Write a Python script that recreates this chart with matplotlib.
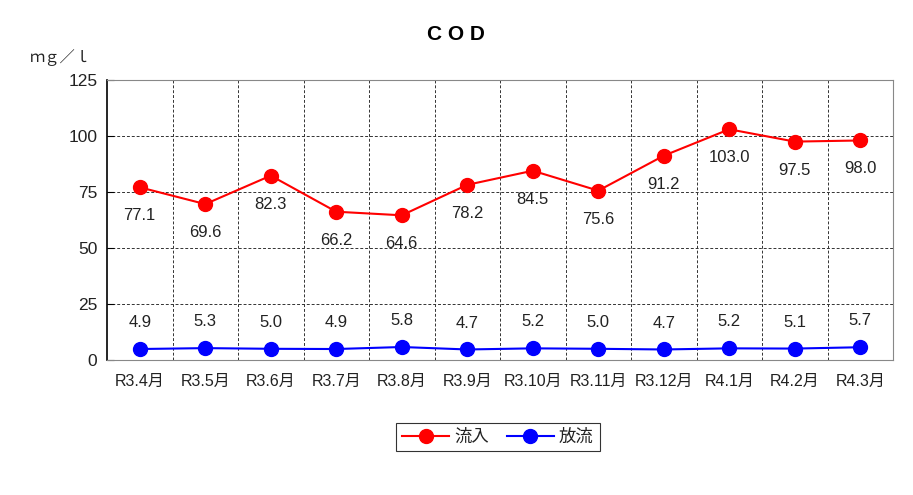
import matplotlib
matplotlib.use("Agg")
import matplotlib.pyplot as plt
from matplotlib.ticker import FixedLocator

plt.rcParams['font.family'] = ['Liberation Sans', 'Noto Sans CJK JP', 'DejaVu Sans']

months = ["R3.4月", "R3.5月", "R3.6月", "R3.7月", "R3.8月", "R3.9月",
          "R3.10月", "R3.11月", "R3.12月", "R4.1月", "R4.2月", "R4.3月"]
inflow = [77.1, 69.6, 82.3, 66.2, 64.6, 78.2, 84.5, 75.6, 91.2, 103.0, 97.5, 98.0]
outflow = [4.9, 5.3, 5.0, 4.9, 5.8, 4.7, 5.2, 5.0, 4.7, 5.2, 5.1, 5.7]
yticks = [0, 25, 50, 75, 100, 125]

txt = '#222222'
fig = plt.figure(figsize=(9.13, 4.95), dpi=100)
ax = fig.add_axes([107/913, 1-360/495, (893-107)/913, (360-80)/495])

x = list(range(len(months)))
ax.plot(x, inflow, color='#ff0000', lw=1.5, marker='o', ms=10, label='流入', zorder=3)
ax.plot(x, outflow, color='#0000ff', lw=1.5, marker='o', ms=10, label='放流', zorder=3)

for xi, v in zip(x, inflow):
    ax.annotate(f"{v:.1f}", (xi, v), xytext=(0, -20.5), textcoords='offset points',
                ha='center', va='center', fontsize=12, color=txt)
for xi, v in zip(x, outflow):
    ax.annotate(f"{v:.1f}", (xi, v), xytext=(0, 19), textcoords='offset points',
                ha='center', va='center', fontsize=12, color=txt)

ax.set_xlim(-0.5, len(months) - 0.5)
ax.set_ylim(0, 125)
ax.set_yticks(yticks)
ax.set_xticks(x)
ax.set_xticklabels(months, fontsize=11.5, color=txt)
ax.tick_params(axis='x', length=0, pad=10)
ax.tick_params(axis='y', direction='in', length=5, labelsize=12.5, labelcolor=txt, pad=7)
ax.xaxis.set_minor_locator(FixedLocator([i + 0.5 for i in range(len(months) - 1)]))
ax.tick_params(axis='x', which='minor', length=0)
ax.grid(axis='x', which='minor', color='#333333', ls=(0, (3, 2)), lw=0.7)
ax.grid(axis='y', which='major', color='#333333', ls=(0, (3, 2)), lw=0.7)
ax.set_axisbelow(True)
for s in ['top', 'right', 'bottom']:
    ax.spines[s].set_color('#888888')
ax.spines['left'].set_color('#000000')
ax.spines['left'].set_linewidth(1.2)

fig.text(456/913, 1-35/495, "C O D", ha='center', va='center', fontsize=15, fontweight='bold')
fig.text(60/913, 1-58/495, "ｍｇ／ｌ", ha='center', va='center', fontsize=11, color=txt)

leg = fig.legend(loc='center', bbox_to_anchor=(498/913, 1-437/495), ncol=2, fontsize=12.5,
                 frameon=True, fancybox=False, edgecolor='#000000', handlelength=2.7,
                 columnspacing=1.0, handletextpad=0.3, borderpad=0.35)
leg.get_frame().set_linewidth(0.8)
for t in leg.get_texts():
    t.set_color(txt)

fig.savefig("out.png", dpi=100)
